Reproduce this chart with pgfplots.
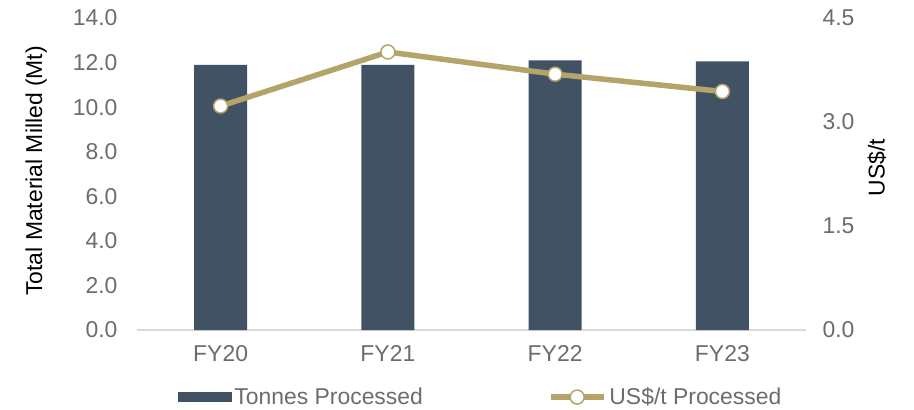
\documentclass[border=0pt]{standalone}
\usepackage{pgfplots}
\pgfplotsset{compat=1.18}
\usepackage{fontspec}
\setmainfont{Liberation Sans}
\definecolor{barc}{RGB}{64,82,99}
\definecolor{linec}{RGB}{181,164,106}
\definecolor{txt}{RGB}{108,108,108}
\definecolor{axc}{RGB}{217,217,217}
\begin{document}
\begin{tikzpicture}
\pgfplotsset{
  base/.style={
    scale only axis, width=669bp, height=312bp,
    at={(0,0)}, anchor=south west,
    xmin=-0.5, xmax=3.5,
    font=\fontsize{23}{26}\selectfont,
    every tick label/.append style={text=txt, font=\fontsize{23}{26}\selectfont},
    label style={text=txt, font=\fontsize{23}{26}\selectfont},
    /pgf/number format/.cd, fixed, fixed zerofill, precision=1, assume math mode=true,
    /pgfplots/.cd,
    major tick length=0pt,
    clip=false,
  }
}
\begin{axis}[base,
  ymin=0, ymax=14, ytick={0,2,...,14},
  xtick={0,1,2,3}, xticklabels={FY20,FY21,FY22,FY23},
  axis x line*=bottom, axis y line*=left,
  y axis line style={draw=none},
  x axis line style={draw=axc, line width=1.5bp},
  yticklabel style={anchor=east, xshift=-16bp},
  xticklabel style={anchor=north, yshift=-12bp},
  ylabel={Total Material Milled (Mt)},
  every axis y label/.style={at={(axis description cs:-0.1505,0.51)}, rotate=90, anchor=center},
]
\addplot[ybar, bar width=0.317, fill=barc, draw=none] coordinates {(0,11.9) (1,11.9) (2,12.1) (3,12.05)};
\end{axis}
\begin{axis}[base,
  ymin=0, ymax=4.5, ytick={0,1.5,3,4.5},
  axis x line=none, axis y line*=right,
  y axis line style={draw=none},
  yticklabel style={anchor=west, xshift=13bp},
  ylabel={US\$/t},
  every axis y label/.style={at={(axis description cs:1.106,0.52)}, rotate=90, anchor=center},
  legend style={at={(axis description cs:0.5145,-0.215)}, anchor=center, draw=none, fill=none,
    legend columns=2, font=\fontsize{23}{26}\selectfont, text=txt,
    /tikz/every even column/.append style={column sep=122bp},
    nodes={inner xsep=3bp, inner ysep=0bp}},
  legend cell align=left,
]
\addlegendimage{legend image code/.code={\fill[barc] (0bp,-4.5bp) rectangle (53bp,4.5bp);}}
\addlegendentry{Tonnes Processed}
\addplot[linec, line width=5.5bp, mark=*, mark options={fill=white, draw=linec, line width=1.5bp}, mark size=7bp,
  legend image code/.code={\draw[linec, line width=5.5bp] (0bp,0bp) -- (53bp,0bp); \draw[linec, fill=white, line width=1.5bp] (26.5bp,0bp) circle (7bp);}]
  coordinates {(0,3.23) (1,4.01) (2,3.69) (3,3.44)};
\addlegendentry{US\$/t Processed}
\end{axis}
\path (-137bp,-80bp) rectangle (777bp,330bp);
\end{tikzpicture}
\end{document}
